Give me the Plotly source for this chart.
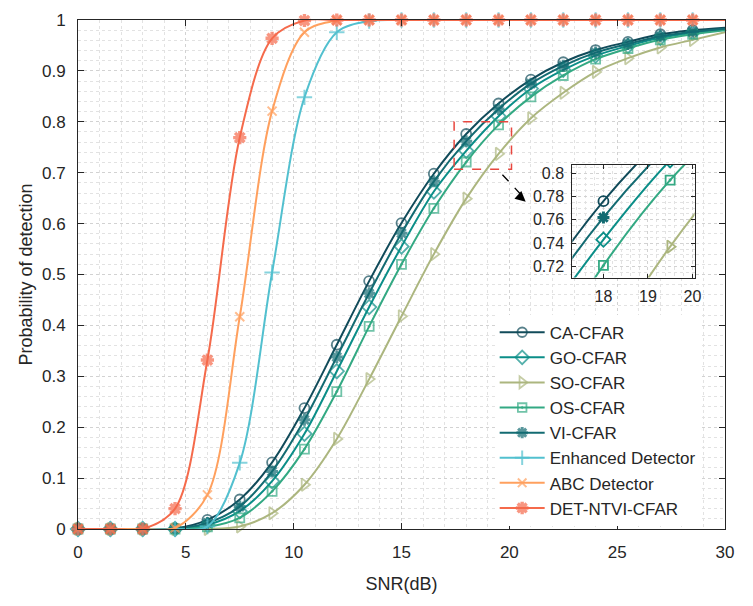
import plotly.graph_objects as go

snr = [0, 1.5, 3, 4.5, 6, 7.5, 9, 10.5, 12, 13.5, 15, 16.5, 18, 19.5, 21, 22.5, 24, 25.5, 27, 28.5, 30]

ca_cfar = [0, 0, 0, 0.001, 0.018, 0.058, 0.131, 0.2375, 0.362, 0.487, 0.601, 0.698, 0.776, 0.836, 0.883, 0.917, 0.941, 0.957, 0.972, 0.980, 0.985]
go_cfar = [0, 0, 0, 0, 0.008, 0.035, 0.094, 0.187, 0.310, 0.436, 0.555, 0.663, 0.743, 0.811, 0.865, 0.902, 0.930, 0.949, 0.965, 0.975, 0.982]
so_cfar = [0, 0, 0, 0, 0, 0.005, 0.031, 0.087, 0.177, 0.2945, 0.418, 0.540, 0.649, 0.737, 0.807, 0.857, 0.898, 0.925, 0.946, 0.961, 0.976]
os_cfar = [0, 0, 0, 0, 0.004, 0.022, 0.074, 0.157, 0.270, 0.398, 0.520, 0.630, 0.721, 0.794, 0.849, 0.891, 0.923, 0.944, 0.961, 0.972, 0.980]
vi_cfar = [0, 0, 0, 0.001, 0.012, 0.044, 0.113, 0.2146, 0.338, 0.463, 0.581, 0.683, 0.762, 0.825, 0.875, 0.910, 0.936, 0.953, 0.968, 0.977, 0.983]
enhanced = [0, 0, 0, 0, 0.005, 0.13, 0.504, 0.848, 0.976, 0.998, 1, 1, 1, 1, 1, 1, 1, 1, 1, 1, 1]
abc = [0, 0, 0, 0.002, 0.067, 0.417, 0.821, 0.976, 0.999, 1, 1, 1, 1, 1, 1, 1, 1, 1, 1, 1, 1]
det_ntvi = [0, 0, 0, 0.04, 0.332, 0.769, 0.964, 0.999, 1, 1, 1, 1, 1, 1, 1, 1, 1, 1, 1, 1, 1]

series = [
    ("CA-CFAR", ca_cfar, "#114B5A", "circle-open", 10, 1.8),
    ("GO-CFAR", go_cfar, "#0B8E88", "diamond-open", 11, 1.8),
    ("SO-CFAR", so_cfar, "#ACB67F", "triangle-right-open", 11, 1.8),
    ("OS-CFAR", os_cfar, "#33A983", "square-open-dot", 9, 1.8),
    ("VI-CFAR", vi_cfar, "#136B72", "asterisk-open", 10, 3),
    ("Enhanced Detector", enhanced, "#52C0CF", "cross-thin-open", 11, 2),
    ("ABC Detector", abc, "#FFA05E", "x-thin-open", 9, 2),
    ("DET-NTVI-CFAR", det_ntvi, "#F56A4B", "asterisk-open", 11, 3.4),
]

inset_names = ["CA-CFAR", "GO-CFAR", "SO-CFAR", "OS-CFAR", "VI-CFAR"]

fig = go.Figure()
for name, vals, col, sym, sz, mlw in series:
    sizes = [sz] * (len(snr) - 1) + [0]
    fig.add_trace(go.Scatter(
        x=snr, y=vals, name=name, mode="lines+markers",
        line=dict(color=col, width=2, shape="spline", smoothing=0.9),
        marker=dict(symbol=sym, size=sizes, color=col, line=dict(color=col, width=mlw)),
        cliponaxis=False, xaxis="x", yaxis="y",
    ))
for name, vals, col, sym, sz, mlw in series:
    if name in inset_names:
        fig.add_trace(go.Scatter(
            x=snr, y=vals, name=name, mode="lines+markers", showlegend=False,
            line=dict(color=col, width=2, shape="spline", smoothing=0.9),
            marker=dict(symbol=sym, size=sz, color=col, line=dict(color=col, width=mlw)),
            xaxis="x2", yaxis="y2",
        ))

axcol = "#262626"
gridcol = "#d2d2d2"
mgridcol = "#e2e2e2"
font = "Liberation Sans, Arial, sans-serif"

fig.update_layout(
    width=753, height=606,
    margin=dict(l=78, r=28, t=20, b=77),
    paper_bgcolor="white", plot_bgcolor="white",
    font=dict(family=font, size=17, color=axcol),
    showlegend=True,
    legend=dict(x=0.644, y=0.421, xanchor="left", yanchor="top",
                bgcolor="rgba(255,255,255,1)", borderwidth=0,
                font=dict(size=17, color=axcol), itemwidth=45,
                tracegroupgap=0),
    xaxis=dict(domain=[0, 1], range=[0, 30], tickvals=[0, 5, 10, 15, 20, 25, 30],
               showline=True, linecolor=axcol, linewidth=1, mirror="ticks",
               ticks="inside", ticklen=6, tickcolor=axcol, ticklabelstandoff=8,
               showgrid=True, gridcolor=gridcol, griddash="dot", gridwidth=1,
               minor=dict(dtick=1, showgrid=True, gridcolor=mgridcol, griddash="dot", gridwidth=1),
               zeroline=False,
               title=dict(text="SNR(dB)", font=dict(size=18), standoff=15)),
    yaxis=dict(domain=[0, 1], range=[0, 1], tickvals=[0, 0.1, 0.2, 0.3, 0.4, 0.5, 0.6, 0.7, 0.8, 0.9, 1],
               showline=True, linecolor=axcol, linewidth=1, mirror="ticks",
               ticks="inside", ticklen=6, tickcolor=axcol, ticklabelstandoff=8,
               showgrid=True, gridcolor=gridcol, griddash="dot", gridwidth=1,
               minor=dict(dtick=0.02, showgrid=True, gridcolor=mgridcol, griddash="dot", gridwidth=1),
               zeroline=False,
               title=dict(text="Probability of detection", font=dict(size=18), standoff=4)),
    xaxis2=dict(domain=[0.764, 0.953], anchor="y2", range=[17.3, 20.05], tickvals=[18, 19, 20],
                showline=True, linecolor=axcol, linewidth=1, mirror="ticks",
                ticks="inside", ticklen=4, tickcolor=axcol, ticklabelstandoff=4,
                showgrid=True, gridcolor=gridcol, griddash="dot",
                minor=dict(dtick=0.2, showgrid=True, gridcolor=mgridcol, griddash="dot"),
                zeroline=False, tickfont=dict(size=16)),
    yaxis2=dict(domain=[0.494, 0.7153], anchor="x2", range=[0.7106, 0.807],
                tickvals=[0.72, 0.74, 0.76, 0.78, 0.8],
                showline=True, linecolor=axcol, linewidth=1, mirror="ticks",
                ticks="inside", ticklen=4, tickcolor=axcol, ticklabelstandoff=4,
                showgrid=True, gridcolor=gridcol, griddash="dot",
                minor=dict(dtick=0.005, showgrid=True, gridcolor=mgridcol, griddash="dot"),
                zeroline=False, tickfont=dict(size=16)),
)

# zoom box and arrow
fig.add_shape(type="rect", xref="x", yref="y", x0=17.44, x1=20.1, y0=0.707, y1=0.80,
              line=dict(color="#E8473F", width=1.5, dash="dash"), layer="above")
fig.add_shape(type="line", xref="x", yref="y", x0=19.68, y0=0.696, x1=20.65, y1=0.652,
              line=dict(color="black", width=1.3, dash="dash"), layer="above")
fig.add_annotation(x=20.76, y=0.643, xref="x", yref="y", ax=-8, ay=-7, axref="pixel", ayref="pixel",
                   text="", showarrow=True, arrowhead=2, arrowsize=1.6, arrowwidth=1.3, arrowcolor="black")

fig.write_html("out.html")
